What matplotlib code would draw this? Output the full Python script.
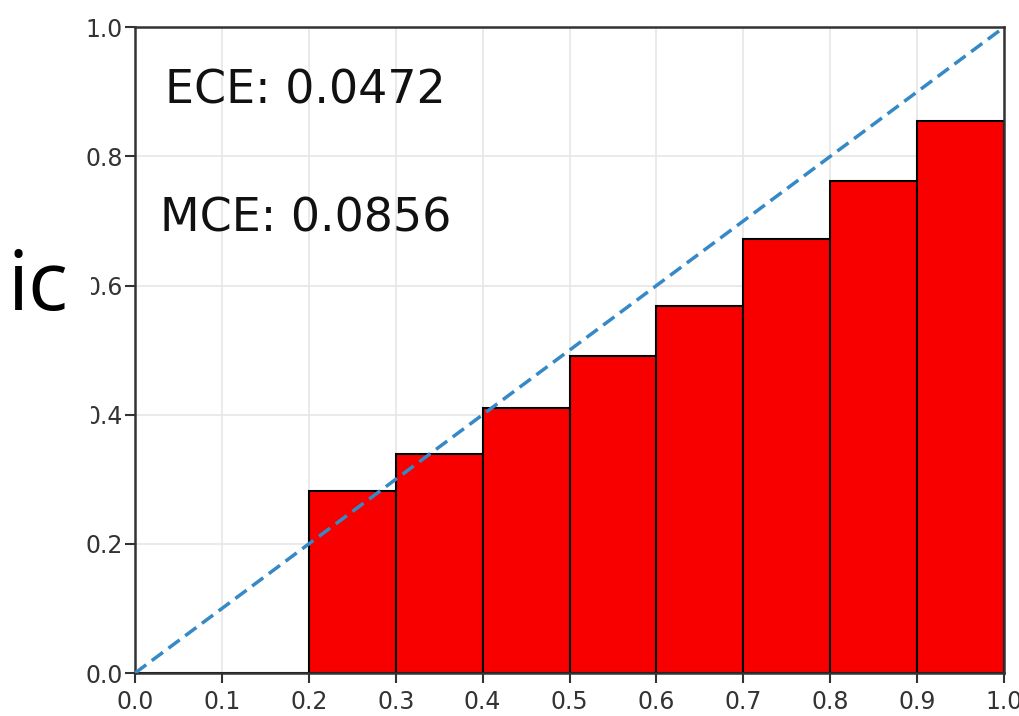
import matplotlib
matplotlib.use("Agg")
import matplotlib.pyplot as plt
import numpy as np

bin_lefts = [0.0, 0.1, 0.2, 0.3, 0.4, 0.5, 0.6, 0.7, 0.8, 0.9]
accuracy = [0.0, 0.0, 0.282, 0.339, 0.410, 0.491, 0.569, 0.672, 0.762, 0.854]
ece_text = "ECE: 0.0472"
mce_text = "MCE: 0.0856"
xticks = [0.0, 0.1, 0.2, 0.3, 0.4, 0.5, 0.6, 0.7, 0.8, 0.9, 1.0]
yticks = [0.0, 0.2, 0.4, 0.6, 0.8, 1.0]

fig = plt.figure(figsize=(10.2, 7.16), dpi=100)
ax = fig.add_axes([0.1324, 0.060, 0.852, 0.902])

ax.grid(True, color="#e6e6e6", linewidth=1.2, zorder=0)
ax.bar(bin_lefts, accuracy, width=0.1, align="edge", color="#f80000",
       edgecolor="black", linewidth=1.5, zorder=2)
ax.plot([0, 1], [0, 1], linestyle="--", color="#3589c6", linewidth=2.5,
        dashes=(4, 2), zorder=3)

ax.set_xlim(0, 1)
ax.set_ylim(0, 1)
ax.set_xticks(xticks)
ax.set_yticks(yticks)
ax.set_xticklabels([f"{t:.1f}" for t in xticks])
ax.set_yticklabels([f"{t:.1f}" for t in yticks])
ax.tick_params(labelsize=17, colors="#333333", length=7, width=1.5, pad=3)
ax.tick_params(axis="x", pad=5)
ax.tick_params(axis="y", pad=2)
for s in ax.spines.values():
    s.set_linewidth(1.8)
    s.set_color("#333333")

ax.text(0.035, 0.882, ece_text, fontsize=33, color="#111111", transform=ax.transData)
ax.text(0.029, 0.683, mce_text, fontsize=33, color="#111111", transform=ax.transData)

# slide overlay covering part of the y tick labels
cover = plt.Rectangle((0, 1 - 440 / 716), 91 / 1020, 200 / 716,
                      transform=fig.transFigure, facecolor="white",
                      edgecolor="none", zorder=5)
fig.add_artist(cover)
fig.text(7 / 1020, 1 - 310 / 716, "ic", fontsize=60, family="Open Sans",
         color="black", zorder=6, va="baseline", ha="left")

fig.savefig("out.png", dpi=100)
